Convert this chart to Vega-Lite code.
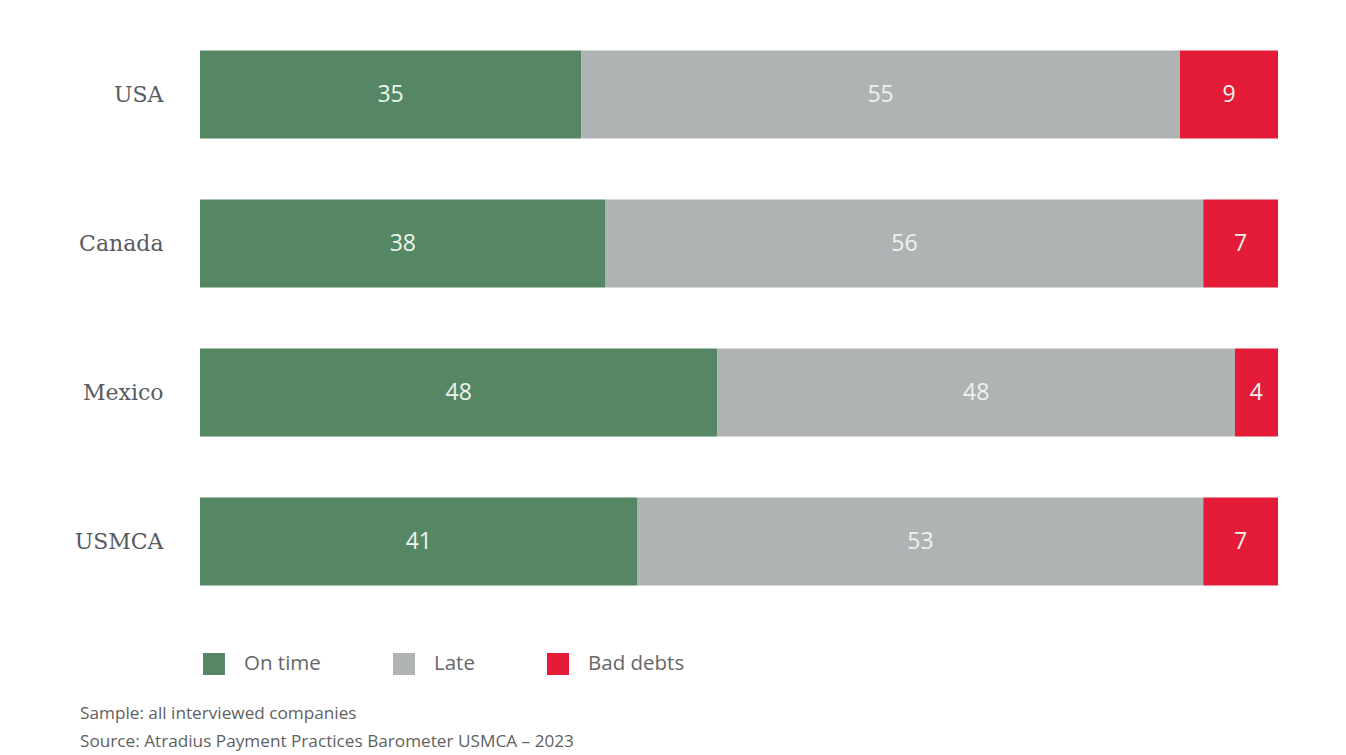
{
  "$schema": "https://vega.github.io/schema/vega-lite/v6.json",
  "width": 1078,
  "height": 596,
  "autosize": "none",
  "padding": {"left": 200, "top": 20, "right": 68, "bottom": 139},
  "background": "white",
  "config": {"view": {"stroke": null}},
  "data": {
    "values": [
      {"country": "USA", "status": "On time", "order": 1, "value": 35},
      {"country": "USA", "status": "Late", "order": 2, "value": 55},
      {"country": "USA", "status": "Bad debts", "order": 3, "value": 9},
      {"country": "Canada", "status": "On time", "order": 1, "value": 38},
      {"country": "Canada", "status": "Late", "order": 2, "value": 56},
      {"country": "Canada", "status": "Bad debts", "order": 3, "value": 7},
      {"country": "Mexico", "status": "On time", "order": 1, "value": 48},
      {"country": "Mexico", "status": "Late", "order": 2, "value": 48},
      {"country": "Mexico", "status": "Bad debts", "order": 3, "value": 4},
      {"country": "USMCA", "status": "On time", "order": 1, "value": 41},
      {"country": "USMCA", "status": "Late", "order": 2, "value": 53},
      {"country": "USMCA", "status": "Bad debts", "order": 3, "value": 7}
    ]
  },
  "title": {
    "text": ["Sample: all interviewed companies", "Source: Atradius Payment Practices Barometer USMCA – 2023"],
    "orient": "bottom",
    "anchor": "start",
    "frame": "group",
    "dx": -120,
    "offset": 30,
    "font": "Open Sans",
    "fontSize": 17.2,
    "fontWeight": "normal",
    "lineHeight": 28,
    "color": "#5f5f5f"
  },
  "encoding": {
    "y": {
      "field": "country",
      "type": "nominal",
      "sort": ["USA", "Canada", "Mexico", "USMCA"],
      "scale": {"paddingInner": 0.41, "paddingOuter": 0.205},
      "axis": {
        "title": null,
        "ticks": false,
        "domain": false,
        "labelPadding": 37,
        "labelFont": "DejaVu Serif",
        "labelFontSize": 22,
        "labelColor": "#585a60"
      }
    },
    "x": {
      "field": "value",
      "type": "quantitative",
      "stack": "normalize",
      "axis": null
    },
    "order": {"field": "order", "type": "quantitative"}
  },
  "layer": [
    {
      "mark": {"type": "bar"},
      "encoding": {
        "color": {
          "field": "status",
          "type": "nominal",
          "sort": ["On time", "Late", "Bad debts"],
          "scale": {"domain": ["On time", "Late", "Bad debts"], "range": ["#558764", "#b0b3b3", "#e31b36"]},
          "legend": {
            "orient": "none",
            "legendX": 3,
            "legendY": 633,
            "direction": "horizontal",
            "title": null,
            "symbolType": "square",
            "symbolSize": 484,
            "symbolStrokeWidth": 0,
            "labelFont": "Open Sans",
            "labelFontSize": 20.5,
            "labelColor": "#666666",
            "labelOffset": 19,
            "columnPadding": 72
          }
        }
      }
    },
    {
      "mark": {"type": "text", "font": "Open Sans", "fontSize": 23, "color": "#eef3ee"},
      "encoding": {
        "x": {"field": "value", "type": "quantitative", "stack": "normalize", "bandPosition": 0.5},
        "text": {"field": "value", "type": "quantitative"}
      }
    }
  ]
}
